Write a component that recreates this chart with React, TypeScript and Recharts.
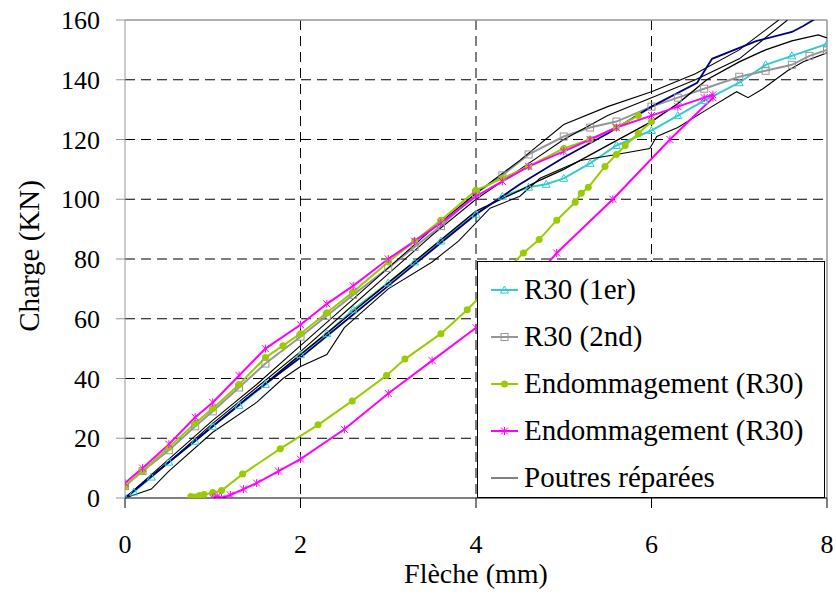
import { CartesianGrid, Legend, Line, LineChart, ReferenceLine, XAxis, YAxis } from "recharts"

// Flèche (mm) / Charge (KN)
const r30FirstX = [0, 0.1, 0.3, 0.5, 0.8, 1, 1.3, 1.6, 2, 2.3, 2.6, 3, 3.3, 3.6, 4, 4.3, 4.6, 4.8, 5, 5.3, 5.6, 6, 6.3, 6.6, 7, 7.3, 7.6, 8]
const r30FirstY = [0, 2, 7, 12, 19, 24, 31, 38, 48, 55, 63, 72, 79, 86, 95, 101, 104, 105, 107, 112, 118, 123, 128, 133, 139, 145, 148, 152]

const r30SecondX = [0, 0.2, 0.5, 0.8, 1, 1.3, 1.6, 2, 2.3, 2.6, 3, 3.3, 3.6, 4, 4.3, 4.6, 5, 5.3, 5.6, 6, 6.3, 6.6, 7, 7.3, 7.6, 7.8, 8]
const r30SecondY = [4, 9, 16, 24, 29, 37, 45, 54, 61, 68, 77, 84, 91, 102, 108, 115, 121, 124, 126, 131, 134, 137, 141, 143, 145, 148, 150]

const endoGreenLoadX = [0, 0.2, 0.5, 0.8, 1, 1.3, 1.6, 1.8, 2, 2.3, 2.6, 3, 3.3, 3.6, 4, 4.3, 4.6, 5, 5.3, 5.6, 5.85]
const endoGreenLoadY = [4, 9, 17, 25, 30, 38, 47, 51, 55, 62, 69, 79, 86, 93, 103, 107, 111, 117, 120, 124, 128]
const endoGreenReloadX = [0.75, 0.8, 0.85, 0.9, 1, 1.1, 1.34, 1.77, 2.2, 2.59, 2.98, 3.19, 3.6, 3.9, 4.2, 4.54, 4.72, 4.92, 5.13, 5.2, 5.28, 5.47, 5.6, 5.7, 5.85, 6]
const endoGreenReloadY = [0.5, 0.3, 0.8, 1.2, 1.8, 2.5, 8, 16.5, 24.5, 32.5, 41, 46.5, 55, 63, 72, 82, 86.5, 93, 99, 102, 104, 111, 115, 118, 122, 126]

const endoPinkLoadX = [0, 0.2, 0.5, 0.8, 1, 1.3, 1.6, 2, 2.3, 2.6, 3, 3.3, 3.6, 4, 4.3, 4.6, 5, 5.3, 5.6, 6, 6.3, 6.6, 6.7]
const endoPinkLoadY = [5, 10, 18, 27, 32, 41, 50, 58, 65, 71, 80, 86, 92, 101, 106, 111, 116, 120, 124, 128, 131, 134, 135]
const endoPinkReloadX = [1, 1.05, 1.1, 1.2, 1.35, 1.5, 1.75, 2, 2.5, 3, 3.5, 4, 4.5, 4.92, 5.56, 6.21, 6.7]
const endoPinkReloadY = [0, 0.5, 0, 1, 3, 5, 9, 13, 23, 35, 46, 57, 68, 82, 100, 120, 134]

// poutres réparées
const rep1X = [0, 0.5, 1, 1.5, 2, 2.5, 3, 3.5, 4, 4.5, 5, 5.5, 6, 6.5, 7, 7.45]
const rep1Y = [0, 13, 26, 38, 51, 64, 77, 90, 102, 113, 125, 131, 136, 142, 150, 160]
const rep2X = [0, 0.5, 1, 1.5, 2, 2.5, 3, 3.5, 4, 4.5, 5, 5.5, 6, 6.5, 7, 7.55]
const rep2Y = [0, 12, 25, 37, 49, 62, 75, 88, 100, 110, 120, 128, 134, 140, 147, 160]
const rep3X = [0, 0.5, 1, 1.5, 2, 2.5, 3, 3.5, 4, 4.5, 4.7, 5, 5.5, 6, 6.3, 6.63, 7, 7.3, 7.6, 7.9, 8]
const rep3Y = [0, 12, 24, 36, 48, 60, 72, 84, 96, 103, 106, 110, 118, 126, 132, 140, 146, 150, 153, 155, 154]
const rep4X = [0, 0.1, 0.3, 0.5, 1, 1.5, 1.8, 2, 2.3, 2.5, 3, 3.5, 3.8, 4.16, 4.5, 4.73, 5.19, 5.6, 5.98, 6.06, 6.3, 6.63, 6.97, 7.1, 7.27, 7.55, 7.73, 8]
const rep4Y = [0, 1, 3, 9, 22, 32, 40, 44, 48, 57, 70, 79, 86, 97, 101, 107, 113, 115, 117, 121, 124, 130, 136, 134, 137, 143, 146, 149]
const repNavyX = [0, 0.5, 1, 1.5, 2, 2.5, 3, 3.5, 4, 4.5, 5, 5.5, 6, 6.52, 6.69, 7.2, 7.6, 7.73, 7.9]
const repNavyY = [0, 12, 24, 36, 47, 59, 71, 83, 95, 105, 114, 122, 131, 139, 147, 153, 156, 158, 161]

const xTicks = [0, 2, 4, 6, 8]
const yTicks = [0, 20, 40, 60, 80, 100, 120, 140, 160]

const pts = (xs: number[], ys: number[]) => xs.map((x, i) => ({ x, y: ys[i] }))

const CYAN = "#33CCCC"
const GRAY = "#969696"
const GREEN = "#99CC00"
const PINK = "#FF00FF"
const NAVY = "#000080"
const FONT = "'Liberation Serif', Tinos, 'Times New Roman', Times, 'Nimbus Roman', 'Noto Serif', FreeSerif, 'DejaVu Serif', serif"

function Marker({ kind, cx, cy, color }: { kind: string; cx: number; cy: number; color: string }) {
  if (kind === "triangle")
    return <polygon points={`${cx},${cy - 4} ${cx - 4},${cy + 3} ${cx + 4},${cy + 3}`} fill="none" stroke={color} strokeWidth={1} />
  if (kind === "square")
    return <rect x={cx - 3.5} y={cy - 3.5} width={7} height={7} fill="none" stroke={color} strokeWidth={1} />
  if (kind === "circle") return <circle cx={cx} cy={cy} r={3.5} fill={color} />
  if (kind === "cross")
    return (
      <g stroke={color} strokeWidth={1}>
        <line x1={cx - 3.5} y1={cy - 3.5} x2={cx + 3.5} y2={cy + 3.5} />
        <line x1={cx - 3.5} y1={cy + 3.5} x2={cx + 3.5} y2={cy - 3.5} />
        <line x1={cx} y1={cy - 4} x2={cx} y2={cy + 4} />
      </g>
    )
  return <g />
}

const dotOf = (kind: string, color: string) => (p: any) => (
  <Marker key={`d${p.index}`} kind={kind} cx={p.cx} cy={p.cy} color={color} />
)

const legendItems = [
  { label: "R30 (1er)", color: CYAN, kind: "triangle", w: 2 },
  { label: "R30 (2nd)", color: GRAY, kind: "square", w: 2 },
  { label: "Endommagement (R30)", color: GREEN, kind: "circle", w: 2 },
  { label: "Endommagement (R30)", color: PINK, kind: "cross", w: 2 },
  { label: "Poutres réparées", color: "#000", kind: "none", w: 1 },
]

function LegendBox() {
  return (
    <div
      style={{
        width: 348,
        height: 237,
        border: "1px solid #000",
        background: "#fff",
        boxSizing: "border-box",
        paddingTop: 4,
        fontFamily: FONT,
        fontSize: 29,
        color: "#000",
      }}
    >
      {legendItems.map((it, i) => (
        <div key={i} style={{ height: 47, display: "flex", alignItems: "center" }}>
          <svg width={46} height={20} style={{ flex: "none" }}>
            <line x1={13} y1={10} x2={40} y2={10} stroke={it.color} strokeWidth={it.w} />
            <Marker kind={it.kind} cx={26.5} cy={10} color={it.color} />
          </svg>
          <span style={{ whiteSpace: "nowrap" }}>{it.label}</span>
        </div>
      ))}
    </div>
  )
}

const tickStyle = { fontFamily: FONT, fontSize: 26, fill: "#000" }

export default function App() {
  return (
    <div style={{ position: "absolute", left: 0, top: 0, width: 836, height: 594, background: "#fff", fontFamily: FONT }}>
      <LineChart width={836} height={594} margin={{ top: 20, right: 9, bottom: 0, left: 0 }} style={{ fontFamily: FONT }}>
        <CartesianGrid
          horizontalValues={[20, 40, 60, 80, 100, 120, 140]}
          verticalValues={[2, 4, 6]}
          stroke="#000"
          strokeDasharray="10 6"
        />
        <ReferenceLine y={160} stroke={GRAY} strokeWidth={1.5} />
        <ReferenceLine x={8} stroke={GRAY} strokeWidth={1.5} />
        <XAxis
          type="number"
          dataKey="x"
          domain={[0, 8]}
          ticks={xTicks}
          allowDataOverflow
          height={96}
          stroke="#000"
          tickSize={10}
          tickMargin={27}
          tick={tickStyle}
          label={{ value: "Flèche (mm)", position: "insideBottom", offset: 11, style: { fontFamily: FONT, fontSize: 28, fill: "#000" } }}
        />
        <YAxis
          type="number"
          dataKey="y"
          domain={[0, 160]}
          ticks={yTicks}
          allowDataOverflow
          width={125}
          stroke={GRAY}
          tickSize={9}
          tickMargin={16}
          tick={tickStyle}
          label={(props: any) => {
            const vb = props.viewBox || { x: 0, y: 20, height: 478 }
            const cx = vb.x + 29
            const cy = vb.y + vb.height / 2 - 3
            return (
              <text x={cx} y={cy} transform={`rotate(-90 ${cx} ${cy})`} textAnchor="middle" dominantBaseline="central" style={{ fontFamily: FONT, fontSize: 29, fill: "#000" }}>
                Charge (KN)
              </text>
            )
          }}
        />
        <Line data={pts(r30FirstX, r30FirstY)} dataKey="y" stroke={CYAN} strokeWidth={2} dot={dotOf("triangle", CYAN)} isAnimationActive={false} legendType="none" />
        <Line data={pts(r30SecondX, r30SecondY)} dataKey="y" stroke={GRAY} strokeWidth={2} dot={dotOf("square", GRAY)} isAnimationActive={false} legendType="none" />
        <Line data={pts(rep4X, rep4Y)} dataKey="y" stroke="#000" strokeWidth={1.1} dot={false} isAnimationActive={false} legendType="none" />
        <Line data={pts(rep3X, rep3Y)} dataKey="y" stroke="#000" strokeWidth={1.4} dot={false} isAnimationActive={false} legendType="none" />
        <Line data={pts(rep2X, rep2Y)} dataKey="y" stroke="#000" strokeWidth={1.1} dot={false} isAnimationActive={false} legendType="none" />
        <Line data={pts(rep1X, rep1Y)} dataKey="y" stroke="#000" strokeWidth={1.1} dot={false} isAnimationActive={false} legendType="none" />
        <Line data={pts(repNavyX, repNavyY)} dataKey="y" stroke={NAVY} strokeWidth={1.8} dot={false} isAnimationActive={false} legendType="none" />
        <Line data={pts(endoGreenLoadX, endoGreenLoadY)} dataKey="y" stroke={GREEN} strokeWidth={2} dot={dotOf("circle", GREEN)} isAnimationActive={false} legendType="none" />
        <Line data={pts(endoGreenReloadX, endoGreenReloadY)} dataKey="y" stroke={GREEN} strokeWidth={2} dot={dotOf("circle", GREEN)} isAnimationActive={false} legendType="none" />
        <Line data={pts(endoPinkLoadX, endoPinkLoadY)} dataKey="y" stroke={PINK} strokeWidth={2} dot={dotOf("cross", PINK)} isAnimationActive={false} legendType="none" />
        <Line data={pts(endoPinkReloadX, endoPinkReloadY)} dataKey="y" stroke={PINK} strokeWidth={2} dot={dotOf("cross", PINK)} isAnimationActive={false} legendType="none" />
        <Legend
          layout="vertical"
          align="center"
          verticalAlign="middle"
          content={() => <LegendBox />}
          wrapperStyle={{ left: 477, top: 261, width: 348, height: 237 }}
        />
      </LineChart>
    </div>
  )
}
